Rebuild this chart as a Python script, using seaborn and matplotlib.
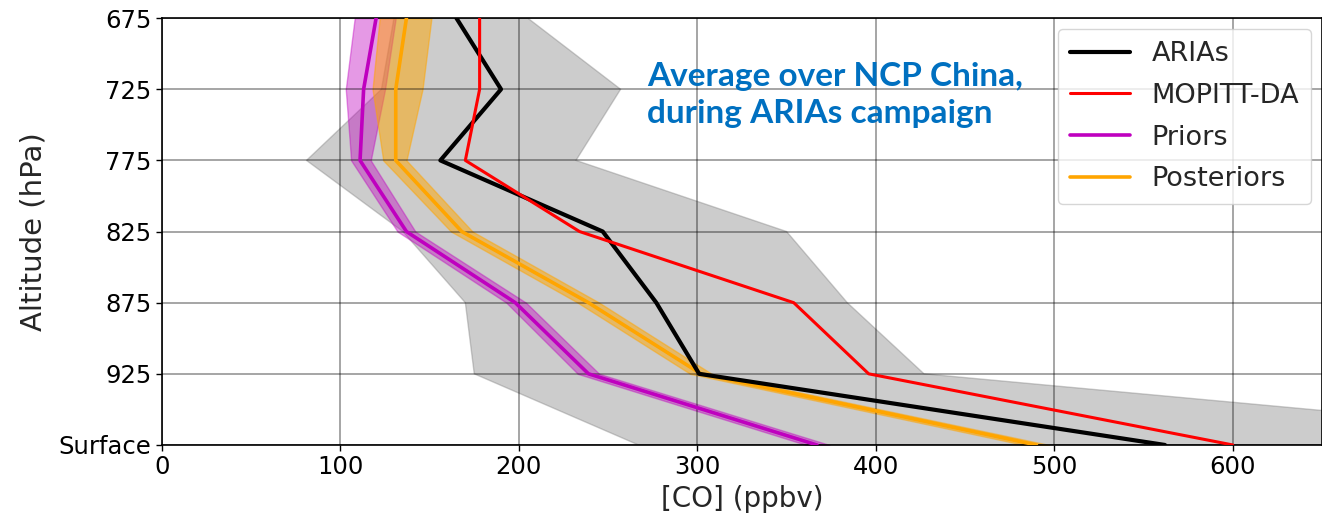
import numpy as np
import matplotlib
matplotlib.use("Agg")
import matplotlib.pyplot as plt
import seaborn as sns

levels = [675, 725, 775, 825, 875, 925, 975]
level_labels = ["675", "725", "775", "825", "875", "925", "Surface"]

arias = [165, 190, 156, 247, 277, 301, 562]
arias_lo = [130, 123, 81, 135, 170, 175, 267]
arias_hi = [205, 257, 232, 350, 384, 427, 860]

mopitt = [178, 178, 170, 234, 354, 396, 600]

priors = [120, 113, 111, 137, 198, 239, 367]
priors_lo = [108, 103, 106, 132, 193, 233, 361]
priors_hi = [131, 125, 117, 142, 204, 245, 374]

posteriors = [137, 131, 131, 168, 239, 302, 490]
posteriors_lo = [122, 118, 124, 162, 233, 296, 483]
posteriors_hi = [151, 146, 137, 174, 245, 308, 497]

sns.set_style("ticks")
plt.rcParams["font.family"] = ["DejaVu Sans"]

fig = plt.figure(figsize=(13.22, 5.18), dpi=100)
ax = fig.add_axes([0.1225, 0.141, 0.8775, 0.824])

ax.fill_betweenx(levels, arias_lo, arias_hi, color="grey", alpha=0.4, zorder=1)
ax.fill_betweenx(levels, priors_lo, priors_hi, color="m", alpha=0.4, zorder=2)
ax.fill_betweenx(levels, posteriors_lo, posteriors_hi, color="orange", alpha=0.5, zorder=2)

sns.lineplot(x=arias, y=levels, orient="y", color="black", lw=3, ax=ax, label="ARIAs", zorder=5)
sns.lineplot(x=mopitt, y=levels, orient="y", color="red", lw=2.2, ax=ax, label="MOPITT-DA", zorder=5)
sns.lineplot(x=priors, y=levels, orient="y", color="m", lw=2.6, ax=ax, label="Priors", zorder=4)
sns.lineplot(x=posteriors, y=levels, orient="y", color="orange", lw=2.6, ax=ax, label="Posteriors", zorder=4)

ax.set_xlim(0, 650)
ax.set_ylim(975, 675)
ax.set_xticks([0, 100, 200, 300, 400, 500, 600])
ax.set_yticks(levels)
ax.set_yticklabels(level_labels)
ax.tick_params(axis="both", labelsize=17.5, direction="out", length=4, width=1, colors="black")
ax.grid(True, color="black", alpha=0.45, lw=1.1)
ax.set_axisbelow(False)
for s in ax.spines.values():
    s.set_color("black")
    s.set_linewidth(1.2)

ax.set_xlabel("[CO] (ppbv)", fontsize=20, labelpad=4)
ax.set_ylabel("Altitude (hPa)", fontsize=21, labelpad=8)

leg = ax.legend(loc="upper right", fontsize=19.5, frameon=True, borderaxespad=0.4,
                handlelength=2.2, labelspacing=0.58, borderpad=0.45)
leg.get_frame().set_edgecolor("#cccccc")

ax.text(272, 729, "Average over NCP China,\nduring ARIAs campaign", color="#0070C0",
        fontsize=24, fontweight="bold", family="Lato", va="center", ha="left",
        linespacing=1.3, zorder=6)

fig.savefig("out.png", dpi=100)
